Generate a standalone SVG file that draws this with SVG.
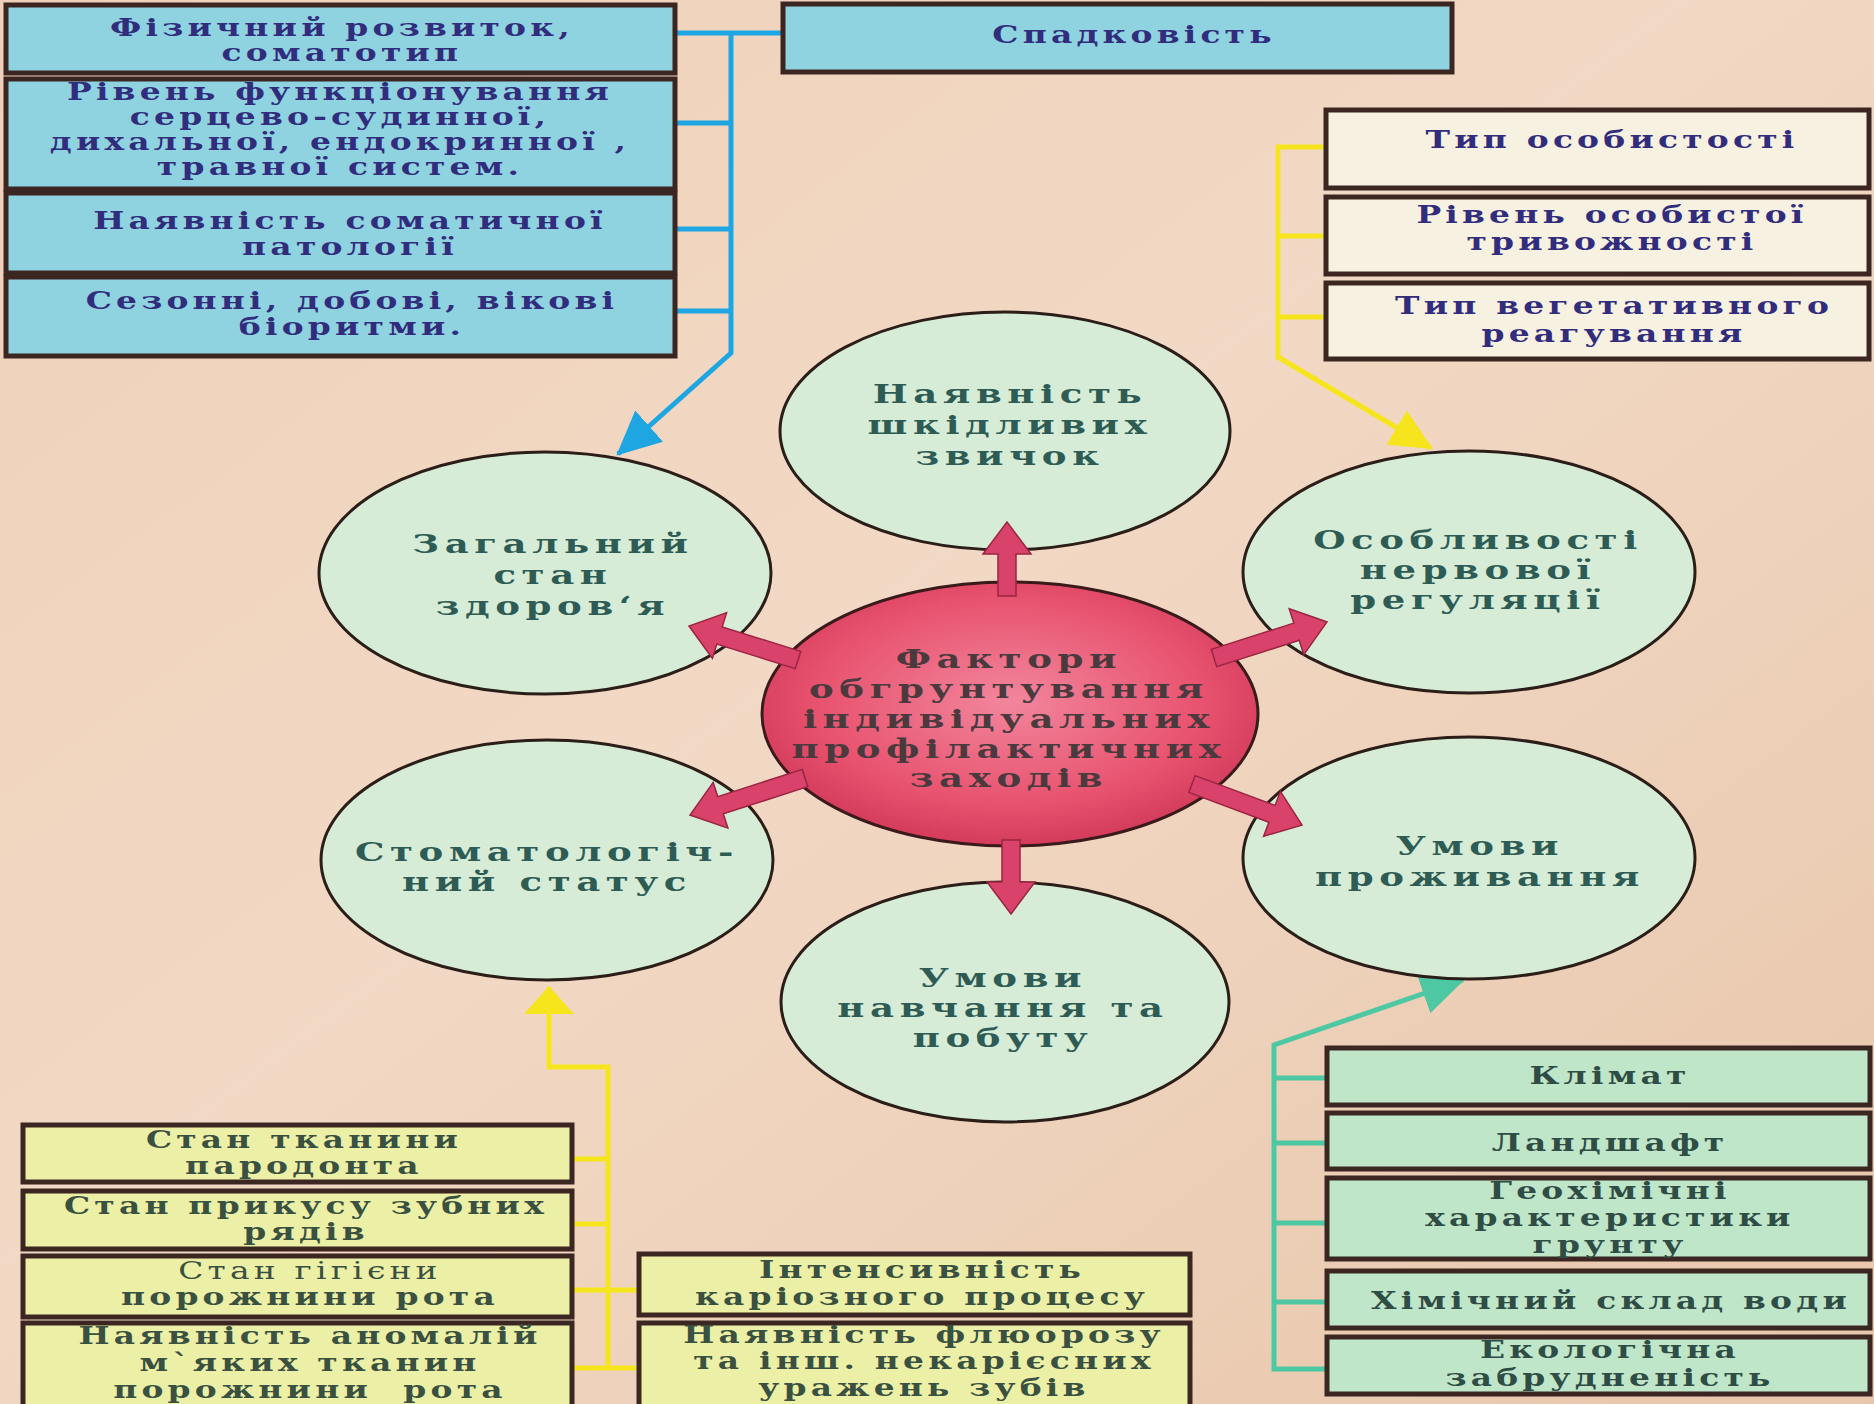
<svg xmlns="http://www.w3.org/2000/svg" width="1874" height="1404" viewBox="0 0 1874 1404">
<defs>
<linearGradient id="bg" x1="0" y1="0" x2="1" y2="1">
<stop offset="0" stop-color="#efd0b8"/>
<stop offset="0.45" stop-color="#f2d9c5"/>
<stop offset="1" stop-color="#e8c6ab"/>
</linearGradient>
<radialGradient id="red" cx="0.5" cy="0.45" r="0.55">
<stop offset="0" stop-color="#f2869d"/>
<stop offset="0.7" stop-color="#e8536f"/>
<stop offset="1" stop-color="#d43b5b"/>
</radialGradient>
<marker id="mBlue" markerUnits="userSpaceOnUse" viewBox="0 0 40 40" refX="38" refY="20" markerWidth="44" markerHeight="44" orient="auto"><path d="M0,1 L40,20 L0,39 z" fill="#1ea6e2"/></marker>
<marker id="mYel" markerUnits="userSpaceOnUse" viewBox="0 0 40 40" refX="38" refY="20" markerWidth="42" markerHeight="42" orient="auto"><path d="M0,1 L40,20 L0,39 z" fill="#f6e51c"/></marker>
<marker id="mYel2" markerUnits="userSpaceOnUse" viewBox="0 0 28 50" refX="27" refY="25" markerWidth="28" markerHeight="50" orient="auto"><path d="M0,0 L28,25 L0,50 z" fill="#f6e51c"/></marker>
<marker id="mGrn" markerUnits="userSpaceOnUse" viewBox="0 0 40 40" refX="38" refY="20" markerWidth="44" markerHeight="44" orient="auto"><path d="M0,1 L40,20 L0,39 z" fill="#4ec8a2"/></marker>
</defs>
<style>
.bx{stroke:#3b2622;stroke-width:5}
.blue{fill:#8fd3e1}
.beige{fill:#f7f1e2}
.yel{fill:#ecefa6}
.grn{fill:#bfe6c9}
.cir{fill:#d6ecd7;stroke:#2b1d18;stroke-width:3}
.ln{fill:none;stroke-width:5}
.t{font-family:"DejaVu Serif","Liberation Serif",serif;font-weight:bold;text-anchor:middle;transform-box:fill-box;transform-origin:center;transform:scaleX(1.4)}
.s{font-size:23.5px;letter-spacing:3px}
.c{font-size:26.5px;letter-spacing:4px}
.tb{fill:#312c7c}
.tc{fill:#2e5c55}
.tr{fill:#4a3a3e}
.ty{fill:#3a5040}
.tg{fill:#2f4c45}
.ra{fill:#d9436b;stroke:#9a2443;stroke-width:1.5}
</style>
<rect x="0" y="0" width="1874" height="1404" fill="url(#bg)"/>

<g id="connectors">
<path class="ln" stroke="#1ea6e2" d="M675,33 H783 M675,123 H731 M675,229 H731 M675,311 H731"/>
<path class="ln" stroke="#1ea6e2" d="M731,33 V353 L618,454" marker-end="url(#mBlue)"/>
<path class="ln" stroke="#f6e51c" d="M1278,236 H1327 M1278,317 H1327"/>
<path class="ln" stroke="#f6e51c" d="M1327,147 H1278 V357 L1431,448" marker-end="url(#mYel)"/>
<path class="ln" stroke="#f6e51c" d="M572,1159 H608 M572,1224 H608 M572,1290 H639 M572,1368 H639"/>
<path class="ln" stroke="#f6e51c" d="M608,1368 V1067 H549 V987" marker-end="url(#mYel2)"/>
<path class="ln" stroke="#4ec8a2" d="M1274,1078 H1327 M1274,1143 H1327 M1274,1223 H1327 M1274,1302 H1327"/>
<path class="ln" stroke="#4ec8a2" d="M1327,1369 H1274 V1045 L1463,980" marker-end="url(#mGrn)"/>
</g>

<g id="n-fiz"><rect class="bx blue" x="6" y="5" width="669" height="68"/>
<text class="t s tb" x="342" y="36">Фізичний розвиток,<tspan x="342" y="61">соматотип</tspan></text></g>
<g id="n-riven"><rect class="bx blue" x="6" y="79" width="669" height="110"/>
<text class="t s tb" x="340" y="100">Рівень функціонування<tspan x="340" y="125">серцево-судинної,</tspan><tspan x="340" y="150">дихальної, ендокринної ,</tspan><tspan x="340" y="175">травної систем.</tspan></text></g>
<g id="n-pat"><rect class="bx blue" x="6" y="193" width="669" height="80"/>
<text class="t s tb" x="350" y="229">Наявність соматичної<tspan x="350" y="255">патології</tspan></text></g>
<g id="n-bio"><rect class="bx blue" x="6" y="277" width="669" height="79"/>
<text class="t s tb" x="352" y="309">Сезонні, добові, вікові<tspan x="352" y="335">біоритми.</tspan></text></g>
<g id="n-spad"><rect class="bx blue" x="783" y="4" width="669" height="68"/>
<text class="t s tb" x="1134" y="43">Спадковість</text></g>

<g id="n-typ"><rect class="bx beige" x="1326" y="110" width="543" height="78"/>
<text class="t s tb" x="1612" y="148">Тип особистості</text></g>
<g id="n-tryv"><rect class="bx beige" x="1326" y="197" width="543" height="77"/>
<text class="t s tb" x="1612" y="223">Рівень особистої<tspan x="1612" y="250">тривожності</tspan></text></g>
<g id="n-veg"><rect class="bx beige" x="1326" y="283" width="543" height="76"/>
<text class="t s tb" x="1614" y="314">Тип вегетативного<tspan x="1614" y="342">реагування</tspan></text></g>

<g id="c-zvych"><ellipse class="cir" cx="1005" cy="431" rx="225" ry="119"/>
<text class="t c tc" x="1010" y="403">Наявність<tspan x="1010" y="434">шкідливих</tspan><tspan x="1010" y="465">звичок</tspan></text></g>
<g id="c-zag"><ellipse class="cir" cx="545" cy="573" rx="226" ry="121"/>
<text class="t c tc" x="553" y="553">Загальний<tspan x="553" y="584">стан</tspan><tspan x="553" y="615">здоров‘я</tspan></text></g>
<g id="c-nerv"><ellipse class="cir" cx="1469" cy="572" rx="226" ry="121"/>
<text class="t c tc" x="1478" y="549">Особливості<tspan x="1478" y="579">нервової</tspan><tspan x="1478" y="609">регуляції</tspan></text></g>
<g id="c-stom"><ellipse class="cir" cx="547" cy="860" rx="226" ry="120"/>
<text class="t c tc" x="547" y="861">Стоматологіч-<tspan x="547" y="891">ний статус</tspan></text></g>
<g id="c-prozh"><ellipse class="cir" cx="1469" cy="858" rx="226" ry="121"/>
<text class="t c tc" x="1480" y="855">Умови<tspan x="1480" y="886">проживання</tspan></text></g>
<g id="c-navch"><ellipse class="cir" cx="1005" cy="1002" rx="224" ry="120"/>
<text class="t c tc" x="1003" y="987">Умови<tspan x="1003" y="1017">навчання та</tspan><tspan x="1003" y="1047">побуту</tspan></text></g>
<g id="c-center"><ellipse cx="1010" cy="714" rx="248" ry="132" fill="url(#red)" stroke="#3a1a1a" stroke-width="3"/>
<text class="t c tr" x="1009" y="668">Фактори<tspan x="1009" y="698">обгрунтування</tspan><tspan x="1009" y="728">індивідуальних</tspan><tspan x="1009" y="758">профілактичних</tspan><tspan x="1009" y="787">заходів</tspan></text></g>

<g id="n-parod"><rect class="bx yel" x="23" y="1125" width="549" height="57"/>
<text class="t s ty" x="304" y="1148">Стан тканини<tspan x="304" y="1174">пародонта</tspan></text></g>
<g id="n-pryk"><rect class="bx yel" x="23" y="1191" width="549" height="58"/>
<text class="t s ty" x="306" y="1214">Стан прикусу зубних<tspan x="306" y="1240">рядів</tspan></text></g>
<g id="n-gig"><rect class="bx yel" x="23" y="1256" width="549" height="61"/>
<text class="t s ty" x="310" y="1279" style="font-weight:normal">Стан гігієни</text>
<text class="t s ty" x="310" y="1305">порожнини рота</text></g>
<g id="n-anom"><rect class="bx yel" x="23" y="1323" width="549" height="90"/>
<text class="t s ty" x="310" y="1344">Наявність аномалій<tspan x="310" y="1371">м`яких тканин</tspan><tspan x="310" y="1398" style="white-space:pre">порожнини  рота</tspan></text></g>
<g id="n-kar"><rect class="bx yel" x="639" y="1254" width="551" height="61"/>
<text class="t s ty" x="922" y="1278">Інтенсивність<tspan x="922" y="1305">каріозного процесу</tspan></text></g>
<g id="n-fluor"><rect class="bx yel" x="639" y="1323" width="551" height="90"/>
<text class="t s ty" x="924" y="1343">Наявність флюорозу<tspan x="924" y="1369">та інш. некарієсних</tspan><tspan x="924" y="1396">уражень зубів</tspan></text></g>

<g id="n-klim"><rect class="bx grn" x="1327" y="1048" width="543" height="57"/>
<text class="t s tg" x="1610" y="1084">Клімат</text></g>
<g id="n-land"><rect class="bx grn" x="1327" y="1113" width="543" height="56"/>
<text class="t s tg" x="1610" y="1151">Ландшафт</text></g>
<g id="n-geo"><rect class="bx grn" x="1327" y="1178" width="543" height="81"/>
<text class="t s tg" x="1610" y="1199">Геохімічні<tspan x="1610" y="1226">характеристики</tspan><tspan x="1610" y="1253">грунту</tspan></text></g>
<g id="n-voda"><rect class="bx grn" x="1327" y="1271" width="543" height="57"/>
<text class="t s tg" x="1611" y="1309">Хімічний склад води</text></g>
<g id="n-eko"><rect class="bx grn" x="1327" y="1337" width="543" height="57"/>
<text class="t s tg" x="1610" y="1358">Екологічна<tspan x="1610" y="1386">забрудненість</tspan></text></g>

<g id="red-arrows">
<polygon class="ra" points="998,596 1016,596 1016,554 1031,554 1007,522 983,554 998,554"/>
<polygon class="ra" points="1002,840 1020,840 1020,882 1035,882 1011,914 987,882 1002,882"/>
<polygon class="ra" points="800.7,651.4 722.2,626.9 726.6,612.6 689,626 712.4,658.4 716.8,644.1 795.3,668.6"/>
<polygon class="ra" points="1211.3,649.4 1293.8,623.1 1289.2,608.8 1327,622 1303.8,654.6 1299.2,640.3 1216.7,666.6"/>
<polygon class="ra" points="802.2,769.4 717.7,796.6 713.2,782.4 690,815 727.9,828.1 723.3,813.8 807.8,786.6"/>
<polygon class="ra" points="1195.1,775.6 1275.1,805.4 1280.4,791.3 1302,825 1263.6,836.3 1268.9,822.2 1188.9,792.4"/>
</g>
</svg>
